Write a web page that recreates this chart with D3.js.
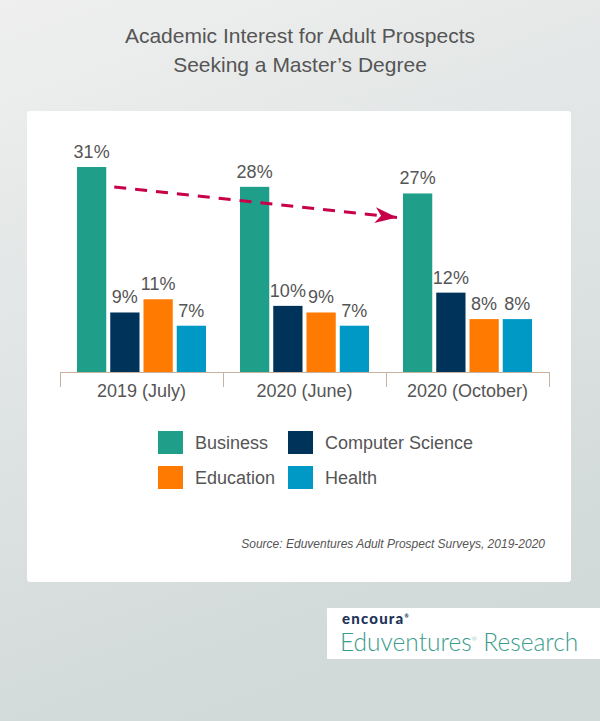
<!DOCTYPE html>
<html>
<head>
<meta charset="utf-8">
<script src="https://cdn.jsdelivr.net/npm/d3@7"></script>
<style>
  html, body { margin: 0; padding: 0; }
  body { width: 600px; height: 721px; overflow: hidden; }
  text { font-family: "Liberation Sans", Arial, sans-serif; }
</style>
</head>
<body>
<div id="chart"></div>
<script>
// data
const years = ["2019 (July)", "2020 (June)", "2020 (October)"];
const categories = ["Business", "Computer Science", "Education", "Health"];
const business = [31, 28, 27];
const computerScience = [9, 10, 12];
const education = [11, 9, 8];
const health = [7, 7, 8];
const seriesValues = [business, computerScience, education, health];

const colors = ["#1f9e8a", "#00335a", "#ff7a00", "#0099c6"];
const textColor = "#555555";

const W = 600, H = 721;
const baseline = 372;

const svg = d3.select("#chart").append("svg")
    .attr("width", W)
    .attr("height", H);

// background gradient
const defs = svg.append("defs");
const grad = defs.append("linearGradient")
    .attr("id", "bg")
    .attr("x1", "0%").attr("y1", "0%")
    .attr("x2", "30%").attr("y2", "100%");
grad.append("stop").attr("offset", "0%").attr("stop-color", "#efefef");
grad.append("stop").attr("offset", "100%").attr("stop-color", "#d1d9d9");

svg.append("rect")
    .attr("width", W).attr("height", H)
    .attr("fill", "url(#bg)");

// title
svg.append("text")
    .attr("x", 300).attr("y", 43)
    .attr("text-anchor", "middle")
    .style("font-size", "21px")
    .attr("fill", textColor)
    .text("Academic Interest for Adult Prospects");
svg.append("text")
    .attr("x", 300).attr("y", 72)
    .attr("text-anchor", "middle")
    .style("font-size", "21px")
    .attr("fill", textColor)
    .text("Seeking a Master\u2019s Degree");

// white card
svg.append("rect")
    .attr("x", 27).attr("y", 111)
    .attr("width", 544).attr("height", 471)
    .attr("rx", 3)
    .attr("fill", "#ffffff");

// scales
const x0 = d3.scaleBand()
    .domain(years)
    .range([60, 549])
    .padding(0);

const x1 = d3.scaleBand()
    .domain(categories)
    .range([17, x0.bandwidth() - 17])
    .paddingInner(0.12)
    .paddingOuter(0);

const yScale = d3.scaleLinear()
    .domain([0, 31])
    .range([baseline, 167]);

// table for bars
const table = [];
years.forEach((yr, i) => {
    categories.forEach((c, j) => {
        table.push({year: yr, cat: c, value: seriesValues[j][i], color: colors[j]});
    });
});

const g = svg.append("g");

g.selectAll("rect.bar")
    .data(table)
    .enter().append("rect")
    .attr("class", "bar")
    .attr("x", d => x0(d.year) + x1(d.cat))
    .attr("y", d => yScale(d.value))
    .attr("width", x1.bandwidth())
    .attr("height", d => baseline - yScale(d.value))
    .attr("fill", d => d.color);

g.selectAll("text.val")
    .data(table)
    .enter().append("text")
    .attr("class", "val")
    .attr("x", d => x0(d.year) + x1(d.cat) + x1.bandwidth() / 2)
    .attr("y", d => yScale(d.value) - 9)
    .attr("text-anchor", "middle")
    .style("font-size", "18px")
    .attr("fill", textColor)
    .text(d => d.value + "%");

// axis line and boundary ticks
const axisColor = "#c9b3a0";
g.append("line")
    .attr("x1", x0.range()[0]).attr("x2", x0.range()[1])
    .attr("y1", baseline + 0.5).attr("y2", baseline + 0.5)
    .attr("stroke", axisColor).attr("stroke-width", 1);

const boundaries = years.map(d => x0(d)).concat([x0.range()[1]]);
g.selectAll("line.tick")
    .data(boundaries)
    .enter().append("line")
    .attr("class", "tick")
    .attr("x1", d => d + 0.5).attr("x2", d => d + 0.5)
    .attr("y1", baseline).attr("y2", baseline + 15)
    .attr("stroke", axisColor).attr("stroke-width", 1);

// category labels
const xAxis = d3.axisBottom(x0).tickSize(0).tickPadding(12);
const ax = g.append("g")
    .attr("transform", "translate(0," + baseline + ")")
    .call(xAxis);
ax.select(".domain").remove();
ax.selectAll("text")
    .style("font-family", "\"Liberation Sans\", Arial, sans-serif")
    .style("font-size", "18px")
    .attr("fill", textColor);

// dashed trend arrow
defs.append("marker")
    .attr("id", "arrow")
    .attr("markerUnits", "userSpaceOnUse")
    .attr("markerWidth", 22).attr("markerHeight", 16)
    .attr("refX", 22).attr("refY", 8)
    .attr("orient", "auto")
    .append("path")
    .attr("d", "M0,0 L22,8 L0,16 L6,8 Z")
    .attr("fill", "#c8004a");

const ax1 = x0(years[0]) + x1(categories[0]) + x1.bandwidth() + 8;
const ay1 = yScale(business[0]) + 20;
const ax2 = x0(years[2]) + x1(categories[0]) - 6;
const ay2 = yScale(business[2]) + 24;
g.append("line")
    .attr("x1", ax1).attr("y1", ay1)
    .attr("x2", ax2).attr("y2", ay2)
    .attr("stroke", "#c8004a")
    .attr("stroke-width", 3)
    .attr("stroke-dasharray", "12,9")
    .attr("marker-end", "url(#arrow)");

// legend
const legendX = [158, 288];
const legendY = [431, 466];
const legend = svg.selectAll("g.legend")
    .data(categories)
    .enter().append("g")
    .attr("class", "legend")
    .attr("transform", (d, i) => "translate(" + legendX[i % 2] + "," + legendY[Math.floor(i / 2)] + ")");
legend.append("rect")
    .attr("width", 25).attr("height", 23)
    .attr("fill", (d, i) => colors[i]);
legend.append("text")
    .attr("x", 37).attr("y", 18)
    .style("font-size", "18px")
    .attr("fill", textColor)
    .text(d => d);

// source
svg.append("text")
    .attr("x", 545).attr("y", 548)
    .attr("text-anchor", "end")
    .style("font-size", "12px")
    .style("font-style", "italic")
    .attr("fill", textColor)
    .text("Source: Eduventures Adult Prospect Surveys, 2019-2020");

// logo block
svg.append("rect")
    .attr("x", 327).attr("y", 608)
    .attr("width", 273).attr("height", 51)
    .attr("fill", "#ffffff");
const enc = svg.append("text")
    .attr("x", 342).attr("y", 624)
    .style("font-family", "Lato, sans-serif")
    .style("font-size", "15px")
    .style("font-weight", "900")
    .style("letter-spacing", "1.2px")
    .attr("fill", "#1d3458");
enc.append("tspan").text("encoura");
enc.append("tspan").attr("dy", -6).style("font-size", "5px").text("\u00ae");
const edu = svg.append("text")
    .attr("x", 340).attr("y", 651)
    .style("font-family", "Lato, sans-serif")
    .style("font-size", "24.5px")
    .style("font-weight", "300")
    .attr("fill", "#3a9c8c");
edu.append("tspan").text("Eduventures");
edu.append("tspan").attr("dy", -10).style("font-size", "6px").text("\u00ae");
edu.append("tspan").attr("dy", 10).style("font-size", "24.5px").text(" Research");
</script>
</body>
</html>
